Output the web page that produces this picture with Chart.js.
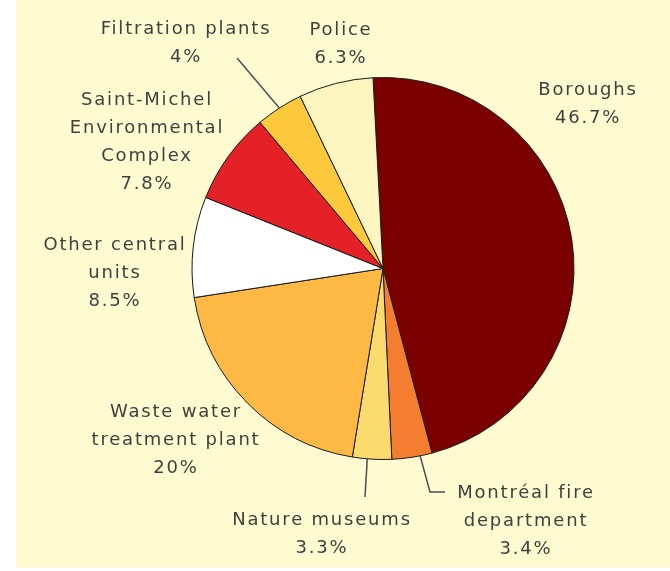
<!DOCTYPE html>
<html>
<head>
<meta charset="utf-8">
<script src="https://cdn.jsdelivr.net/npm/chart.js@4.4.0/dist/chart.umd.min.js"></script>
<style>
  html, body { margin: 0; padding: 0; background: #ffffff; }
  #wrap { width: 670px; height: 571px; }
</style>
</head>
<body>
<div id="wrap"><canvas id="c" width="670" height="571"></canvas></div>
<script>
const categories = ["Boroughs", "Montréal fire department", "Nature museums", "Waste water treatment plant", "Other central units", "Saint-Michel Environmental Complex", "Filtration plants", "Police"];
const shares = [46.7, 3.4, 3.3, 20, 8.5, 7.8, 4, 6.3];
const shareLabels = ["46.7%", "3.4%", "3.3%", "20%", "8.5%", "7.8%", "4%", "6.3%"];
const labelLines = [
  ["Boroughs"],
  ["Montréal fire", "department"],
  ["Nature museums"],
  ["Waste water", "treatment plant"],
  ["Other central", "units"],
  ["Saint-Michel", "Environmental", "Complex"],
  ["Filtration plants"],
  ["Police"]
];
const sliceColors = ["#7b0000", "#f47d30", "#fbdb6e", "#fdb944", "#ffffff", "#e32126", "#fdc93c", "#fdf5c0"];

// text anchor (center x, first baseline y)
const labelAnchors = [
  [588, 95], [526, 498], [322, 525], [176, 417], [115, 250], [147, 105], [186, 34], [341, 35]
];
// leader lines: [slice index, fraction along slice, then path points]
const leaders = [
  {i: 6, f: 0.5, pts: [[237, 58]]},
  {i: 2, f: 0.62, pts: [[365, 497]]},
  {i: 1, f: 0.3, pts: [[430, 492], [445, 492]]}
];

const bgPlugin = {
  id: 'bg',
  beforeDraw(chart) {
    const ctx = chart.ctx;
    ctx.save();
    ctx.fillStyle = '#fffbd0';
    ctx.fillRect(16, 0, 654, 568);
    ctx.restore();
  }
};

const labelPlugin = {
  id: 'labels',
  afterDatasetsDraw(chart) {
    const ctx = chart.ctx;
    const meta = chart.getDatasetMeta(0);
    ctx.save();
    ctx.font = '18px "DejaVu Sans"';
    if ('letterSpacing' in ctx) ctx.letterSpacing = '1.8px';
    ctx.fillStyle = '#404040';
    ctx.textAlign = 'center';
    ctx.textBaseline = 'alphabetic';
    labelLines.forEach((lines, k) => {
      const all = lines.concat([shareLabels[k]]);
      const [x, y] = labelAnchors[k];
      all.forEach((t, j) => ctx.fillText(t, x, y + j * 28));
    });
    ctx.strokeStyle = '#4a4e58';
    ctx.lineWidth = 1.5;
    leaders.forEach(l => {
      const arc = meta.data[l.i];
      const p = arc.getProps(['x', 'y', 'startAngle', 'endAngle', 'outerRadius'], true);
      const a = p.startAngle + (p.endAngle - p.startAngle) * l.f;
      ctx.beginPath();
      ctx.moveTo(p.x + Math.cos(a) * p.outerRadius, p.y + Math.sin(a) * p.outerRadius);
      l.pts.forEach(q => ctx.lineTo(q[0], q[1]));
      ctx.stroke();
    });
    ctx.restore();
  }
};

new Chart(document.getElementById('c'), {
  type: 'pie',
  data: {
    labels: categories,
    datasets: [{
      data: shares,
      backgroundColor: sliceColors,
      borderColor: '#1a1a1a',
      borderWidth: 1
    }]
  },
  options: {
    responsive: false,
    animation: false,
    rotation: -3,
    layout: { padding: { top: 77, bottom: 111, left: 96, right: 0 } },
    plugins: { legend: { display: false }, tooltip: { enabled: false } }
  },
  plugins: [bgPlugin, labelPlugin]
});
</script>
</body>
</html>
